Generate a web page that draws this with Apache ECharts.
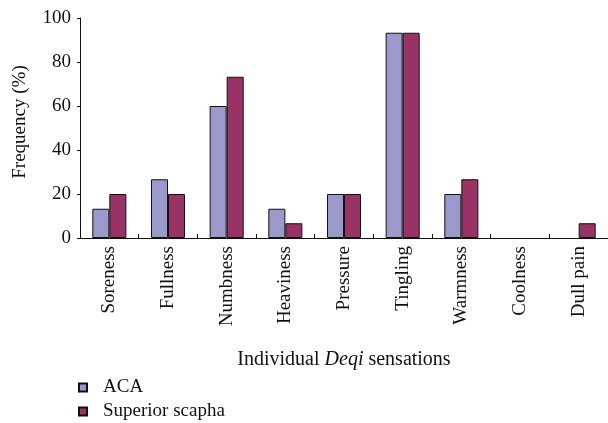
<!DOCTYPE html>
<html>
<head>
<meta charset="utf-8">
<script src="https://cdn.jsdelivr.net/npm/echarts@6/dist/echarts.min.js"></script>
<style>
  html, body { margin: 0; padding: 0; background: #fff; }
  #chart { width: 608px; height: 423px; }
</style>
</head>
<body>
<div id="chart"></div>
<script>
// sensations on the x axis
var categories = ['Soreness', 'Fullness', 'Numbness', 'Heaviness', 'Pressure', 'Tingling', 'Warmness', 'Coolness', 'Dull pain'];
// frequency (%) per group
var acaValues = [13.3, 26.7, 60, 13.3, 20, 93.3, 20, 0, 0];
var scaphaValues = [20, 20, 73.3, 6.7, 20, 93.3, 26.7, 0, 6.7];
var seriesNames = ['ACA', 'Superior scapha'];

var font = 'Liberation Serif';
var chart = echarts.init(document.getElementById('chart'));

// zero bars draw nothing in the reference, so drop their border
function barData(values) {
    return values.map(function (v) {
        return v === 0 ? { value: v, itemStyle: { borderWidth: 0 } } : v;
    });
}

var legendText = { fontFamily: font, fontSize: 19, color: '#111', padding: [0, 0, 0, 11] };

chart.setOption({
    animation: false,
    textStyle: { fontFamily: font, color: '#111' },
    grid: { left: 80, top: 18, width: 531, bottom: 185 },
    legend: {
        orient: 'vertical',
        left: 78,
        top: 378,
        padding: 0,
        itemWidth: 8,
        itemHeight: 8,
        itemGap: 5,
        icon: 'rect',
        textStyle: legendText,
        data: seriesNames.map(function (n) {
            return { name: n, textStyle: legendText };
        })
    },
    xAxis: {
        type: 'category',
        data: categories,
        axisLine: { lineStyle: { color: '#111', width: 1 } },
        axisTick: { show: true, inside: true, length: 4, lineStyle: { color: '#111' } },
        axisLabel: { rotate: 90, fontSize: 19, color: '#111', fontFamily: font, margin: 8 },
        name: '{a|Individual }{b|Deqi}{a| sensations}',
        nameLocation: 'middle',
        nameGap: 112,
        nameTextStyle: {
            rich: {
                a: { fontFamily: font, fontSize: 20, color: '#111' },
                b: { fontFamily: font, fontSize: 20, color: '#111', fontStyle: 'italic' }
            }
        }
    },
    yAxis: {
        type: 'value',
        min: 0,
        max: 100,
        interval: 20,
        splitLine: { show: false },
        axisLine: { show: true, lineStyle: { color: '#111', width: 1 } },
        axisTick: { show: true, length: 3, lineStyle: { color: '#111' } },
        axisLabel: { fontSize: 19, color: '#111', fontFamily: font, margin: 9 },
        name: 'Frequency (%)',
        nameLocation: 'middle',
        nameGap: 50,
        nameTextStyle: { fontFamily: font, fontSize: 19, color: '#111', padding: [0, 0, 0, 12] }
    },
    series: [
        {
            name: seriesNames[0],
            type: 'bar',
            data: barData(acaValues),
            barGap: '0%',
            barCategoryGap: '42%',
            itemStyle: { color: '#9999cc', borderColor: '#111', borderWidth: 1 }
        },
        {
            name: seriesNames[1],
            type: 'bar',
            data: barData(scaphaValues),
            itemStyle: { color: '#993366', borderColor: '#111', borderWidth: 1 }
        }
    ]
});
</script>
</body>
</html>
